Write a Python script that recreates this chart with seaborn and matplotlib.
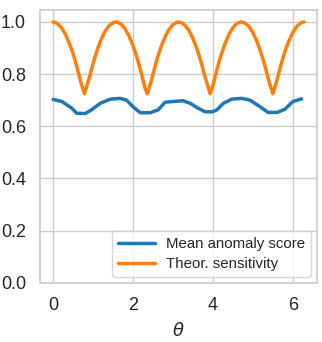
import matplotlib
matplotlib.use("Agg")
import matplotlib.pyplot as plt
import seaborn as sns
import pandas as pd

sns.set_theme(style="whitegrid")
plt.rcParams['font.family'] = ['Liberation Sans', 'DejaVu Sans']

# Mean anomaly score
theta_score = [0.0, 0.22, 0.47, 0.59, 0.80, 0.93, 1.18, 1.43, 1.68, 1.84, 2.00,
               2.18, 2.43, 2.63, 2.80, 3.00, 3.25, 3.43, 3.63, 3.80, 3.97, 4.10,
               4.26, 4.47, 4.72, 4.93, 5.18, 5.38, 5.60, 5.80, 6.00, 6.22]
score = [0.703, 0.695, 0.669, 0.650, 0.649, 0.660, 0.688, 0.704, 0.707, 0.700, 0.675,
         0.652, 0.652, 0.663, 0.692, 0.695, 0.698, 0.688, 0.669, 0.656, 0.655, 0.663,
         0.688, 0.704, 0.707, 0.700, 0.675, 0.653, 0.653, 0.665, 0.695, 0.705]

# Theoretical sensitivity
theta_sens = [0.0, 0.1, 0.2, 0.3, 0.4, 0.5, 0.6, 0.7, 0.785, 0.9, 1.0, 1.1, 1.2,
              1.3, 1.4, 1.5, 1.6, 1.7, 1.8, 1.9, 2.0, 2.1, 2.2, 2.3, 2.356, 2.45,
              2.5, 2.6, 2.7, 2.8, 2.9, 3.0, 3.1, 3.2, 3.3, 3.4, 3.5, 3.6, 3.7,
              3.8, 3.927, 4.0, 4.1, 4.2, 4.3, 4.4, 4.5, 4.6, 4.7, 4.8, 4.9, 5.0,
              5.1, 5.2, 5.3, 5.4, 5.498, 5.6, 5.7, 5.8, 5.9, 6.0, 6.1, 6.2, 6.28]
sens = [1.000, 0.995, 0.980, 0.955, 0.921, 0.878, 0.825, 0.765, 0.725, 0.783, 0.841,
        0.891, 0.932, 0.964, 0.985, 0.997, 1.000, 0.992, 0.974, 0.946, 0.909, 0.863,
        0.808, 0.746, 0.725, 0.770, 0.801, 0.857, 0.904, 0.942, 0.971, 0.990, 0.999,
        0.998, 0.987, 0.967, 0.936, 0.897, 0.848, 0.791, 0.725, 0.757, 0.818, 0.872,
        0.916, 0.952, 0.978, 0.994, 1.000, 0.996, 0.982, 0.959, 0.926, 0.883, 0.832,
        0.773, 0.725, 0.776, 0.835, 0.886, 0.927, 0.960, 0.983, 0.997, 1.000]

df_score = pd.DataFrame({"theta": theta_score, "value": score})
df_sens = pd.DataFrame({"theta": theta_sens, "value": sens})

fig = plt.figure(figsize=(3.22, 3.42), dpi=100)
ax = fig.add_axes([0.124, 0.173, 0.860, 0.798])

sns.lineplot(data=df_score, x="theta", y="value", ax=ax, color="#1f77b4",
             linewidth=2.5, label="Mean anomaly score")
sns.lineplot(data=df_sens, x="theta", y="value", ax=ax, color="#ff7f0e",
             linewidth=2.5, label="Theor. sensitivity")

ax.set_ylim(0, 1.046)
ax.set_xlim(-0.33, 6.6)
ax.set_xticks([0, 2, 4, 6])
ax.set_yticks([0.0, 0.2, 0.4, 0.6, 0.8, 1.0])
ax.tick_params(labelsize=13, pad=4)
ax.set_xlabel(r"$\theta$", fontsize=13, labelpad=6)
ax.set_ylabel("")
ax.legend(loc="lower right", fontsize=10.8, framealpha=0.8, handlelength=2.5,
          borderaxespad=0.4, handletextpad=0.7, labelspacing=0.4)

fig.savefig("out.png", dpi=100)
